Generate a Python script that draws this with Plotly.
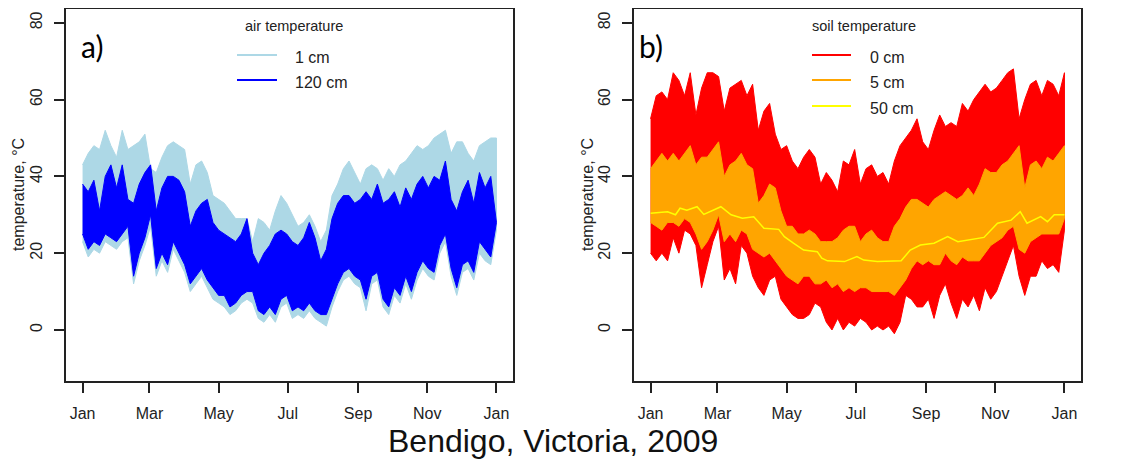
import plotly.graph_objects as go

days = list(range(0, 366, 5))  # day of year 2009
month_ticks = [0, 59, 120, 181, 243, 304, 365]
month_labels = ["Jan", "Mar", "May", "Jul", "Sep", "Nov", "Jan"]

# air temperature, 1 cm (daily extremes envelope)
air1_max = [43, 46, 48, 47, 52, 48, 45, 52, 47, 48, 49, 51, 42, 41, 45, 48, 49, 48, 47, 38,
            43, 44, 41, 35, 34, 33, 31, 29, 29, 29, 23, 29, 28, 26, 31, 35, 33, 30, 27, 28,
            30, 27, 23, 26, 35, 38, 42, 44, 41, 38, 42, 43, 42, 39, 42, 40, 43, 44, 46, 48,
            47, 48, 50, 51, 52, 46, 49, 49, 46, 44, 48, 49, 50, 50]
air1_min = [23, 19, 21, 20, 23, 22, 21, 23, 24, 12, 18, 22, 27, 14, 18, 15, 21, 18, 15, 10,
            12, 14, 11, 8, 7, 6, 4, 5, 7, 8, 7, 3, 2, 4, 2, 6, 7, 3, 4, 3,
            5, 3, 2, 1, 6, 10, 13, 14, 12, 11, 5, 12, 13, 6, 4, 9, 7, 12, 8, 13,
            16, 14, 13, 20, 23, 14, 9, 15, 16, 13, 20, 18, 17, 26]
# air temperature, 120 cm
air120_max = [38, 36, 39, 31, 40, 43, 37, 43, 34, 33, 38, 41, 43, 31, 37, 40, 40, 39, 36, 27,
              31, 33, 34, 28, 26, 25, 24, 23, 25, 29, 20, 17, 20, 22, 25, 26, 25, 23, 22, 24,
              28, 24, 18, 21, 29, 33, 35, 35, 33, 34, 36, 34, 38, 33, 34, 36, 32, 37, 34, 38,
              40, 37, 40, 39, 44, 34, 31, 36, 39, 33, 41, 37, 40, 29]
air120_min = [25, 21, 23, 22, 25, 24, 23, 25, 27, 14, 20, 24, 30, 16, 20, 17, 23, 20, 17, 12,
              14, 16, 13, 11, 9, 9, 6, 7, 9, 10, 10, 5, 4, 6, 4, 8, 9, 5, 6, 5,
              7, 5, 4, 4, 8, 12, 15, 16, 14, 13, 8, 14, 15, 8, 6, 11, 9, 14, 10, 15,
              18, 16, 15, 22, 25, 16, 11, 17, 18, 15, 23, 21, 19, 28]

# soil temperature, 0 cm
soil0_max = [55, 61, 62, 60, 67, 65, 61, 67, 56, 63, 67, 67, 66, 57, 63, 64, 65, 61, 64, 52,
             57, 59, 51, 47, 48, 44, 42, 45, 47, 45, 38, 41, 39, 36, 44, 43, 47, 38, 42, 43,
             40, 41, 38, 44, 48, 50, 52, 55, 49, 47, 52, 56, 53, 54, 53, 59, 57, 60, 62, 64,
             62, 63, 65, 67, 68, 55, 60, 64, 65, 61, 65, 64, 61, 67]
soil0_min = [20, 18, 20, 18, 24, 20, 26, 25, 22, 11, 17, 23, 27, 13, 16, 12, 22, 20, 14, 11,
             9, 13, 14, 8, 6, 4, 3, 3, 4, 7, 6, 2, 0, 3, 0, 2, 1, 3, 2, 0,
             1, 0, 1, -1, 2, 9, 8, 6, 6, 8, 3, 9, 12, 7, 3, 8, 6, 9, 5, 11,
             8, 10, 14, 18, 22, 14, 9, 14, 14, 18, 16, 17, 15, 26]
# soil temperature, 5 cm
soil5_max = [42, 44, 46, 44, 46, 44, 46, 48, 43, 45, 45, 47, 49, 40, 43, 44, 46, 43, 42, 33,
             35, 38, 37, 31, 27, 27, 25, 25, 26, 25, 23, 23, 23, 24, 26, 27, 27, 23, 25, 26,
             24, 23, 23, 27, 29, 32, 34, 34, 33, 32, 34, 35, 36, 35, 34, 35, 37, 35, 38, 42,
             41, 41, 43, 44, 46, 48, 37, 43, 44, 42, 45, 44, 46, 48]
soil5_min = [28, 27, 26, 28, 28, 27, 29, 28, 25, 21, 23, 26, 30, 23, 25, 23, 26, 25, 21, 20,
             19, 20, 18, 16, 14, 13, 12, 14, 14, 12, 12, 13, 11, 12, 10, 11, 10, 11, 11, 10,
             10, 10, 10, 9, 11, 13, 16, 18, 17, 18, 17, 17, 20, 18, 17, 19, 18, 18, 18, 20,
             22, 23, 24, 26, 27, 21, 20, 23, 24, 25, 25, 25, 25, 29]
# soil temperature, 50 cm
days_50 = [0, 15, 22, 26, 32, 41, 47, 56, 62, 71, 81, 91, 100, 113, 118, 126, 135, 147, 151, 156,
           171, 182, 188, 200, 221, 229, 238, 250, 262, 271, 285, 294, 306, 318, 326, 332, 344, 350, 356, 365]
soil50 = [30.4, 30.8, 30.0, 31.7, 31.2, 32.1, 30.1, 31.2, 32.1, 30.0, 29.1, 29.5, 26.5, 26.2, 24.3, 22.6,
          20.8, 20.4, 18.7, 18.0, 17.8, 19.1, 18.2, 17.8, 18.0, 20.8, 22.1, 22.6, 24.3, 23.0, 23.6, 24.1,
          27.8, 28.6, 30.8, 27.8, 29.5, 28.2, 30.0, 30.0]

# ---------------- figure ----------------
W, H = 1121, 462
OFF = 8  # page body margin offset of the rendered figure
def px(x):
    return (x - OFF) / W
def py(y):
    return 1 - (y - OFF) / H

fig = go.Figure()

def band(xa, ya, d, lo, hi, color, name):
    fig.add_trace(go.Scatter(
        x=d + d[::-1], y=hi + lo[::-1], xaxis=xa, yaxis=ya,
        mode="lines", fill="toself", fillcolor=color,
        line=dict(color=color, width=1), name=name, showlegend=False,
        hoverinfo="skip"))

band("x", "y", days, air1_min, air1_max, "#ADD8E6", "1 cm")
band("x", "y", days, air120_min, air120_max, "#0000FF", "120 cm")
band("x2", "y2", days, soil0_min, soil0_max, "#FF0000", "0 cm")
band("x2", "y2", days, soil5_min, soil5_max, "#FFA500", "5 cm")
fig.add_trace(go.Scatter(x=days_50, y=soil50, xaxis="x2", yaxis="y2", mode="lines",
                         line=dict(color="#FFFF00", width=1.5), name="50 cm",
                         showlegend=False, hoverinfo="skip"))

axis_font = dict(family="Liberation Sans, Arial, sans-serif", size=16, color="#222222")
xcommon = dict(range=[-14.6, 379.6], tickmode="array", tickvals=month_ticks, ticktext=month_labels,
               ticks="outside", ticklen=10, tickwidth=1.5, tickcolor="#222222",
               showline=True, mirror=True, linecolor="#222222", linewidth=1.5,
               showgrid=False, zeroline=False, tickfont=axis_font, ticklabelstandoff=7)
ycommon = dict(range=[-13.3, 83.6], tickmode="array", tickvals=[0, 20, 40, 60, 80],
               ticks="outside", ticklen=10, tickwidth=1.5, tickcolor="#222222",
               showline=True, mirror=True, linecolor="#222222", linewidth=1.5,
               showgrid=False, zeroline=False, tickfont=axis_font, tickangle=-90,
               ticklabelstandoff=6)

ytop, ybot = py(9), py(381)
fig.update_layout(
    width=W, height=H, margin=dict(l=0, r=0, t=0, b=0),
    paper_bgcolor="white", plot_bgcolor="white", showlegend=False,
    xaxis=dict(domain=[px(66), px(513)], anchor="y", **xcommon),
    yaxis=dict(domain=[ybot, ytop], anchor="x", **ycommon),
    xaxis2=dict(domain=[px(634), px(1081)], anchor="y2", **xcommon),
    yaxis2=dict(domain=[ybot, ytop], anchor="x2", **ycommon),
)

ann = []
shapes = []
label_font = dict(family="Liberation Sans, Arial, sans-serif", size=16, color="#222222")
title_font = dict(family="Liberation Sans, Arial, sans-serif", size=14.5, color="#222222")

# y-axis titles
for xc in (18, 587):
    ann.append(dict(x=px(xc), y=py(195), xref="paper", yref="paper", text="temperature, °C",
                    textangle=-90, showarrow=False, font=label_font, xanchor="center", yanchor="middle"))
# panel letters
ann.append(dict(x=px(79), y=py(46), xref="paper", yref="paper", text="a)", showarrow=False,
                font=dict(family="Lato, sans-serif", size=30, color="black"), xanchor="left", yanchor="middle"))
ann.append(dict(x=px(637), y=py(46), xref="paper", yref="paper", text="b)", showarrow=False,
                font=dict(family="Lato, sans-serif", size=30, color="black"), xanchor="left", yanchor="middle"))

# legends
def legend(title, title_x, line_x0, line_x1, text_x, items):
    ann.append(dict(x=px(title_x), y=py(26), xref="paper", yref="paper", text=title, showarrow=False,
                    font=title_font, xanchor="center", yanchor="middle"))
    for (yy, name, color, lw) in items:
        shapes.append(dict(type="line", xref="paper", yref="paper", x0=px(line_x0), x1=px(line_x1),
                           y0=py(yy), y1=py(yy), line=dict(color=color, width=lw)))
        ann.append(dict(x=px(text_x), y=py(yy + 2), xref="paper", yref="paper", text=name,
                        showarrow=False, font=label_font, xanchor="left", yanchor="middle"))

legend("air temperature", 294, 237, 277, 293,
       [(55, "1 cm", "#ADD8E6", 2), (80, "120 cm", "#0000FF", 2)])
legend("soil temperature", 864, 812, 851, 868,
       [(55, "0 cm", "#FF0000", 2), (80, "5 cm", "#FFA500", 2), (106, "50 cm", "#FFFF00", 2)])

# overall caption
ann.append(dict(x=px(553), y=py(441), xref="paper", yref="paper", text="Bendigo, Victoria, 2009",
                showarrow=False, font=dict(family="Liberation Sans, Arial, sans-serif", size=32, color="#111111"),
                xanchor="center", yanchor="middle", borderpad=0))

fig.update_layout(annotations=ann, shapes=shapes)
fig.write_html("out.html")
